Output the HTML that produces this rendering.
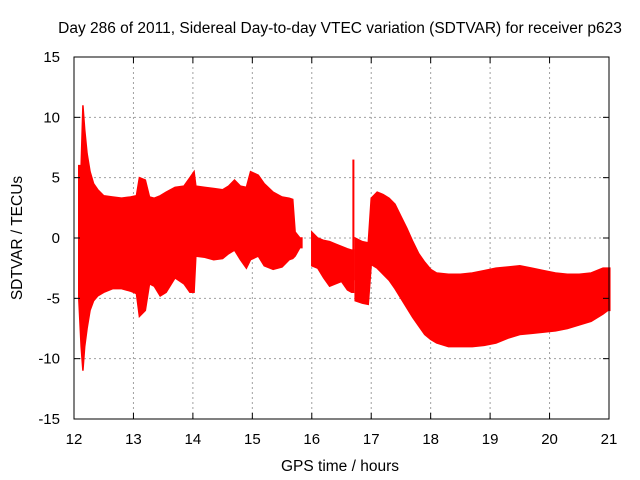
<!DOCTYPE html>
<html><head><meta charset="utf-8"><style>
body{margin:0;background:#fff}
svg{display:block;font-family:"Liberation Sans",sans-serif}
</style></head><body>
<svg id="c" width="640" height="480" xmlns="http://www.w3.org/2000/svg">
<rect width="640" height="480" fill="#fff"/>
<g id="grid"></g>
<g id="data"></g>
<g id="axes"></g>
<text x="340" y="33" font-size="15.5" text-anchor="middle" fill="#000">Day 286 of 2011, Sidereal Day-to-day VTEC variation (SDTVAR) for receiver p623</text>
<text x="340" y="471" font-size="15.5" text-anchor="middle" fill="#000">GPS time / hours</text>
<text transform="translate(22,238) rotate(-90)" font-size="15.5" text-anchor="middle" fill="#000">SDTVAR / TECUs</text>
</svg>
<script>
const xTicks=[12,13,14,15,16,17,18,19,20,21];
const yTicks=[-15,-10,-5,0,5,10,15];
const times=[12.08,12.12,12.15,12.18,12.22,12.27,12.33,12.4,12.5,12.65,12.8,12.95,13.05,13.1,13.2,13.27,13.35,13.45,13.55,13.7,13.85,13.95,14.02,14.05,14.2,14.35,14.5,14.6,14.7,14.8,14.9,14.97,15.1,15.2,15.35,15.5,15.62,15.68,15.72,15.8,15.88,16.0,16.1,16.2,16.3,16.4,16.5,16.6,16.67,16.7,16.73,16.85,16.95,17.0,17.1,17.2,17.3,17.4,17.5,17.6,17.7,17.8,17.9,18.0,18.1,18.3,18.5,18.7,18.9,19.1,19.3,19.5,19.7,19.9,20.1,20.3,20.5,20.7,20.9,20.98];
const upper=[6,6,11,9,7,5.5,4.5,4,3.5,3.4,3.3,3.4,3.5,5,4.8,3.4,3.3,3.5,3.8,4.2,4.3,5,5.5,4.3,4.2,4.1,4,4.3,4.8,4.3,4.2,5.5,5.2,4.5,3.8,3.4,3.3,3.2,0.5,0,null,0.5,0,-0.2,-0.3,-0.5,-0.7,-0.9,-1,6.5,0,-0.3,-0.4,3.3,3.8,3.6,3.3,2.8,1.8,0.8,-0.3,-1.3,-2,-2.6,-2.9,-3,-3,-2.9,-2.7,-2.5,-2.4,-2.3,-2.5,-2.7,-2.9,-3,-3,-2.9,-2.5,-2.5];
const lower=[-5,-9,-11,-9,-7.5,-6,-5.2,-4.8,-4.5,-4.2,-4.2,-4.4,-4.6,-6.5,-6,-3.8,-4,-4.8,-4.5,-3.3,-3.8,-4.5,-4.5,-1.5,-1.6,-1.8,-1.7,-1.3,-1,-1.8,-2.5,-1.8,-1.5,-2.3,-2.6,-2.4,-1.8,-1.7,-1.5,-0.8,null,-2.3,-2.5,-3.3,-4,-3.8,-3.6,-4.3,-4.5,-3.5,-5.2,-5.4,-5.5,-2.2,-2.5,-3,-3.5,-4.2,-5,-5.8,-6.6,-7.3,-8,-8.4,-8.7,-9,-9,-9,-8.9,-8.7,-8.3,-8,-7.9,-7.8,-7.7,-7.5,-7.2,-6.9,-6.3,-6];
const NS='http://www.w3.org/2000/svg';
const L=74,R=609,T=57,B=419;
const xs=v=>L+(v-12)/9*(R-L);
const ys=v=>B-(v+15)/30*(B-T);
function mk(tag,a,p){const e=document.createElementNS(NS,tag);for(const k in a)e.setAttribute(k,a[k]);p.appendChild(e);return e;}
const grid=document.getElementById('grid'),data=document.getElementById('data'),axes=document.getElementById('axes');
xTicks.forEach(t=>{const x=xs(t);
 if(t>12&&t<21){const g=mk('line',{x1:x,x2:x,y1:T,y2:B,stroke:'#a0a0a0','stroke-dasharray':'2,3'},grid);
 }
 mk('line',{x1:x,x2:x,y1:B,y2:B-6,stroke:'#000'},axes);mk('line',{x1:x,x2:x,y1:T,y2:T+6,stroke:'#000'},axes);
 const tx=mk('text',{x:x,y:B+25,'font-size':15,'text-anchor':'middle'},axes);tx.textContent=t;
 });
yTicks.forEach(t=>{const y=ys(t);
 if(t>-15&&t<15){const g=mk('line',{x1:L,x2:R,y1:y,y2:y,stroke:'#a0a0a0','stroke-dasharray':'2,3'},grid);
 }
 mk('line',{x1:L,x2:L+6,y1:y,y2:y,stroke:'#000'},axes);mk('line',{x1:R,x2:R-6,y1:y,y2:y,stroke:'#000'},axes);
 const tx=mk('text',{x:L-14,y:y+5,'font-size':15,'text-anchor':'end'},axes);tx.textContent=t;
 });
mk('rect',{x:L,y:T,width:R-L,height:B-T,fill:'none',stroke:'#000'},axes);
// build continuous segments as filled bands
let seg=[];
function flush(){
 if(!seg.length)return;
 let top=seg.map(i=>xs(times[i])+','+ys(upper[i]));
 let bot=seg.slice().reverse().map(i=>xs(times[i])+','+ys(lower[i]));
 const last=seg[seg.length-1];
 top.push((xs(times[last])+2)+','+ys(upper[last]));
 bot.unshift((xs(times[last])+2)+','+ys(lower[last]));
 const p=mk('polygon',{points:top.concat(bot).join(' '),fill:'#ff0000',stroke:'#ff0000','stroke-width':1.5},data);
 
 
 seg=[];
}
for(let i=0;i<times.length;i++){
 if(upper[i]===null){flush();continue;}
 if(i===49){flush();
  const s=mk('rect',{x:xs(times[i])-1,y:ys(upper[i]),width:2,height:ys(lower[i])-ys(upper[i]),fill:'#ff0000'},data);
  
  
  continue;}
 seg.push(i);
}
flush();
</script>
</body></html>
